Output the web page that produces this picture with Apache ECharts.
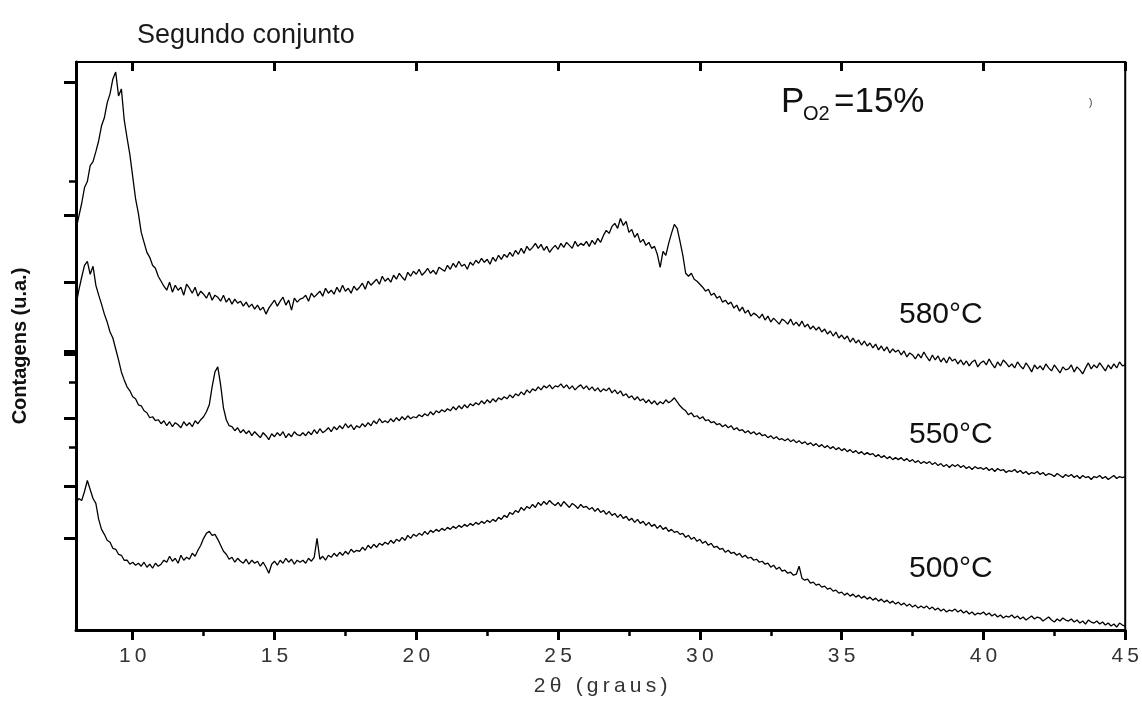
<!DOCTYPE html>
<html>
<head>
<meta charset="utf-8">
<script src="https://cdn.jsdelivr.net/npm/echarts@6/dist/echarts.min.js"></script>
<style>
  html, body { margin: 0; padding: 0; background: #fff; }
  #chart { width: 1142px; height: 702px; }
</style>
</head>
<body>
<div id="chart"></div>
<script>
// Diffraction scans, 2θ from 8° to 45° sampled every 0.1°; intensities in arbitrary stacked units
const ANGLE_START = 8.0;
const ANGLE_STEP = 0.1;

const XTICKS_MAJOR = [10, 15, 20, 25, 30, 35, 40, 45];
const XTICKS_MINOR = [12.5, 17.5, 22.5, 27.5, 32.5, 37.5, 42.5];
const YTICKS_LONG = [550, 416, 349, 280, 277, 212, 144, 92];
const YTICKS_SHORT = [450, 249, 183];

const scan580 = [
  402, 415, 428, 444, 450, 466, 470, 480, 491, 506,
  514, 529, 538, 553, 560, 536, 543, 512, 494, 477,
  455, 433, 418, 399, 389, 379, 374, 366, 363, 355,
  350, 345, 341, 349, 339, 346, 341, 344, 336, 347,
  343, 338, 344, 335, 340, 337, 333, 339, 331, 336,
  334, 330, 336, 329, 333, 327, 332, 328, 330, 325,
  329, 324, 327, 322, 326, 321, 324, 317, 323, 327,
  331, 325, 330, 334, 326, 331, 321, 333, 329, 332,
  333, 336, 330, 338, 334, 337, 340, 335, 343, 338,
  341, 337, 344, 339, 346, 340, 343, 338, 345, 341,
  344, 348, 342, 350, 346, 349, 352, 347, 355, 350,
  353, 349, 356, 352, 358, 354, 351, 359, 355, 360,
  357, 362, 356, 359, 363, 358, 361, 357, 364, 362,
  360, 366, 362, 368, 364, 370, 365, 367, 362, 369,
  366, 371, 368, 373, 369, 372, 367, 374, 370, 376,
  372, 377, 374, 379, 375, 381, 377, 383, 378, 385,
  381, 384, 388, 383, 387, 381, 385, 379, 383, 386,
  382, 388, 384, 389, 386, 383, 390, 385, 388, 386,
  390, 385, 391, 387, 393, 389, 396, 401, 398, 405,
  408, 403, 413, 406, 410, 399, 402, 394, 398, 389,
  392, 386, 389, 383, 385, 377, 364, 380, 376, 388,
  398, 407, 403, 390, 376, 358, 355, 358, 352, 350,
  347, 344, 340, 342, 336, 338, 333, 335, 329, 331,
  327, 329, 323, 326, 320, 324, 318, 321, 315, 318,
  316, 313, 317, 311, 315, 309, 313, 310, 307, 312,
  310, 307, 312, 306, 309, 305, 310, 304, 307, 302,
  305, 301, 304, 299, 302, 297, 300, 295, 299, 293,
  296, 292, 295, 289, 293, 288, 291, 286, 290, 285,
  288, 283, 287, 281, 285, 280, 284, 278, 282, 279,
  281, 276, 280, 274, 278, 276, 272, 277, 273, 279,
  274, 270, 276, 271, 275, 269, 273, 268, 274, 270,
  272, 267, 271, 266, 270, 265, 269, 271, 264, 268,
  270, 266, 272, 267, 263, 269, 265, 271, 268, 264,
  267, 263, 269, 265, 262, 268, 264, 259, 266, 262,
  265, 261, 267, 263, 260, 266, 262, 258, 264, 261,
  262, 266, 259, 264, 261, 257, 263, 268, 262, 266,
  263, 268, 264, 260, 266, 262, 267, 263, 269, 265,
  266
];

const scan550 = [
  326, 341, 354, 366, 370, 357, 365, 346, 336, 327,
  317, 309, 299, 293, 282, 271, 259, 251, 244, 240,
  234, 232, 226, 225, 220, 218, 213, 214, 210, 211,
  207, 210, 205, 209, 204, 208, 206, 203, 209, 205,
  208, 204, 210, 207, 211, 214, 219, 226, 244, 259,
  264, 246, 223, 211, 205, 204, 200, 203, 198, 201,
  197, 200, 195, 199, 196, 193, 198, 195, 191, 197,
  194, 198, 195, 199, 193, 197, 194, 199, 196, 195,
  198, 195, 199, 196, 201, 197, 202, 198, 200, 203,
  199, 204, 201, 205, 202, 207, 203, 206, 201, 205,
  203, 207, 204, 208, 205, 210, 207, 212, 208, 210,
  208, 212, 209, 213, 210, 214, 211, 215, 212, 214,
  213, 216, 214, 217, 215, 219, 216, 220, 218, 221,
  219, 222, 220, 224, 221, 225, 222, 226, 223, 227,
  225, 228, 226, 230, 227, 231, 228, 232, 229, 233,
  231, 234, 232, 236, 233, 237, 235, 239, 236, 241,
  238, 242, 240, 244, 241, 245, 243, 246, 242, 245,
  244, 247, 243, 246, 242, 245, 241, 244, 246, 242,
  245, 241, 244, 240, 243, 239, 242, 240, 243, 238,
  241, 237, 240, 235, 237, 233, 235, 231, 234, 230,
  232, 228, 231, 227, 230, 226, 229, 227, 231, 228,
  230, 233, 229, 225, 222, 220, 216, 218, 214, 215,
  212, 214, 210, 211, 208, 209, 206, 207, 204, 206,
  203, 205, 201, 203, 200, 201, 198, 200, 197, 199,
  196, 198, 195, 196, 193, 195, 192, 194, 191, 192,
  190, 192, 189, 191, 188, 190, 187, 189, 186, 188,
  185, 187, 184, 186, 183, 185, 182, 184, 181, 183,
  180, 182, 179, 181, 178, 180, 177, 179, 176, 178,
  176, 177, 174, 176, 173, 175, 172, 174, 171, 173,
  171, 173, 170, 172, 169, 171, 168, 170, 167, 169,
  167, 169, 166, 168, 165, 167, 164, 166, 163, 166,
  164, 166, 163, 165, 162, 164, 161, 164, 162, 163,
  161, 163, 160, 162, 159, 162, 160, 161, 158, 160,
  159, 161, 158, 160, 157, 159, 156, 158, 157, 159,
  156, 158, 155, 157, 156, 154, 157, 155, 153, 156,
  154, 156, 153, 155, 152, 155, 153, 154, 151, 154,
  153, 155, 152, 154, 151, 153, 155, 152, 154, 153,
  154
];

const scan500 = [
  127, 132, 130, 139, 150, 141, 132, 127, 111, 101,
  96, 90, 88, 82, 81, 76, 75, 70, 70, 66,
  68, 65, 67, 64, 68, 63, 66, 62, 67, 64,
  66, 70, 68, 74, 69, 72, 67, 75, 70, 73,
  71, 77, 74, 80, 85, 92, 97, 99, 95, 96,
  91, 85, 79, 76, 71, 73, 68, 72, 69, 67,
  71, 66, 70, 67, 69, 64, 68, 63, 57, 66,
  69, 65, 70, 67, 72, 68, 71, 66, 70, 68,
  70, 67, 72, 69, 73, 92, 71, 74, 70, 75,
  73, 77, 74, 78, 75, 79, 76, 81, 78, 80,
  79, 83, 80, 85, 82, 86, 83, 87, 85, 88,
  86, 90, 87, 91, 89, 93, 90, 95, 92, 96,
  94, 97, 95, 99, 96, 100, 98, 101, 99, 102,
  100, 103, 101, 104, 102, 105, 103, 106, 104, 107,
  105, 108, 106, 109, 107, 110, 108, 111, 109, 113,
  111, 115, 113, 118, 116, 120, 118, 123, 120, 124,
  122, 126, 123, 128, 125, 129, 126, 130, 127, 125,
  128, 124, 129, 126, 123, 127, 125, 122, 126, 123,
  124, 121, 123, 119, 122, 118, 120, 116, 119, 115,
  117, 113, 116, 112, 114, 110, 112, 108, 111, 107,
  109, 105, 108, 104, 106, 102, 105, 101, 103, 99,
  101, 98, 99, 96, 97, 93, 95, 91, 93, 89,
  91, 87, 89, 85, 87, 83, 84, 81, 82, 78,
  80, 77, 78, 75, 77, 73, 75, 72, 73, 70,
  71, 68, 69, 66, 67, 63, 65, 61, 63, 59,
  60, 57, 58, 55, 56, 64, 52, 50, 51, 47,
  48, 45, 46, 43, 44, 41, 42, 39, 40, 37,
  38, 35, 37, 34, 36, 33, 35, 32, 34, 31,
  33, 30, 32, 29, 31, 28, 30, 27, 29, 26,
  28, 25, 27, 24, 26, 23, 25, 22, 24, 22,
  24, 21, 23, 20, 22, 19, 21, 18, 20, 19,
  21, 18, 20, 17, 19, 16, 18, 15, 17, 16,
  18, 15, 17, 14, 16, 13, 15, 12, 14, 13,
  15, 12, 14, 11, 13, 10, 12, 14, 11, 13,
  12, 9, 11, 13, 10, 8, 11, 9, 12, 10,
  9, 11, 8, 10, 7, 9, 6, 10, 8, 7,
  9, 6, 8, 5, 7, 4, 6, 3, 7, 5,
  4
];

function pairs(values) {
  return values.map((v, i) => [+(ANGLE_START + i * ANGLE_STEP).toFixed(1), v]);
}

const spaced = s => s.split('').join('\u2009');

const lineStyle = { color: '#000', width: 1.3 };
function scanSeries(name, values) {
  return {
    name, type: 'line', data: pairs(values), showSymbol: false, symbol: 'none',
    lineStyle, xAxisIndex: 0, yAxisIndex: 0, animation: false, silent: true
  };
}

const FONT = 'Liberation Sans, Arial, sans-serif';
const chart = echarts.init(document.getElementById('chart'), null, { renderer: 'canvas' });

chart.setOption({
  backgroundColor: '#fff',
  animation: false,
  title: {
    text: 'Segundo conjunto', left: 132, top: 17,
    textStyle: { fontFamily: FONT, fontSize: 27, fontWeight: 'normal', color: '#1a1a1a' }
  },
  grid: { left: 76, right: 16, top: 62, bottom: 70, show: true, borderColor: '#000', borderWidth: 2, backgroundColor: 'transparent' },
  xAxis: [
    {
      type: 'value', position: 'bottom', min: 8, max: 45,
      name: spaced('2θ (graus)'), nameLocation: 'middle', nameGap: 46,
      nameTextStyle: { fontFamily: FONT, fontSize: 21, color: '#333' },
      axisLine: { show: true, lineStyle: { color: '#000', width: 3 } },
      axisTick: { show: true, customValues: XTICKS_MAJOR, length: 10, lineStyle: { color: '#000', width: 3 } },
      axisLabel: {
        customValues: XTICKS_MAJOR, margin: 16, formatter: v => spaced(String(v)),
        fontFamily: FONT, fontSize: 21, color: '#333'
      },
      splitLine: { show: false }
    },
    {
      type: 'value', position: 'bottom', min: 8, max: 45,
      axisLine: { show: false },
      axisTick: { show: true, customValues: XTICKS_MINOR, length: 6, lineStyle: { color: '#000', width: 2.5 } },
      axisLabel: { show: false },
      splitLine: { show: false }
    },
    {
      type: 'value', position: 'top', min: 8, max: 45,
      axisLine: { show: true, lineStyle: { color: '#000', width: 2 } },
      axisTick: { show: true, inside: true, customValues: XTICKS_MAJOR, length: 9, lineStyle: { color: '#000', width: 3 } },
      axisLabel: { show: false },
      splitLine: { show: false }
    }
  ],
  yAxis: [
    {
      type: 'value', position: 'left', min: 0, max: 570,
      name: 'Contagens (u.a.)', nameLocation: 'middle', nameGap: 46, nameRotate: 90,
      nameTextStyle: { fontFamily: FONT, fontSize: 20, fontWeight: 'bold', color: '#111' },
      axisLine: { show: true, lineStyle: { color: '#000', width: 3 } },
      axisTick: { show: true, customValues: YTICKS_LONG, length: 12, lineStyle: { color: '#000', width: 3 } },
      axisLabel: { show: false },
      splitLine: { show: false }
    },
    {
      type: 'value', position: 'left', min: 0, max: 570,
      axisLine: { show: false },
      axisTick: { show: true, customValues: YTICKS_SHORT, length: 7, lineStyle: { color: '#000', width: 2.5 } },
      axisLabel: { show: false },
      splitLine: { show: false }
    }
  ],
  series: [
    scanSeries('580°C', scan580),
    scanSeries('550°C', scan550),
    scanSeries('500°C', scan500)
  ],
  graphic: [
    { type: 'text', left: 781, top: 85, style: { text: 'P', font: '35px "Liberation Sans", Arial, sans-serif', fill: '#111' } },
    { type: 'text', left: 803, top: 104, style: { text: 'O2', font: '20px "Liberation Sans", Arial, sans-serif', fill: '#111' } },
    { type: 'text', left: 834, top: 85, style: { text: '=15%', font: '35px "Liberation Sans", Arial, sans-serif', fill: '#111' } },
    { type: 'text', left: 1089, top: 98, style: { text: ')', font: '10px "Liberation Sans", Arial, sans-serif', fill: '#333' } },
    { type: 'text', left: 899, top: 300, style: { text: '580°C', font: '30px "Liberation Sans", Arial, sans-serif', fill: '#111' } },
    { type: 'text', left: 909, top: 420, style: { text: '550°C', font: '30px "Liberation Sans", Arial, sans-serif', fill: '#111' } },
    { type: 'text', left: 909, top: 554, style: { text: '500°C', font: '30px "Liberation Sans", Arial, sans-serif', fill: '#111' } }
  ]
});
</script>
</body>
</html>
